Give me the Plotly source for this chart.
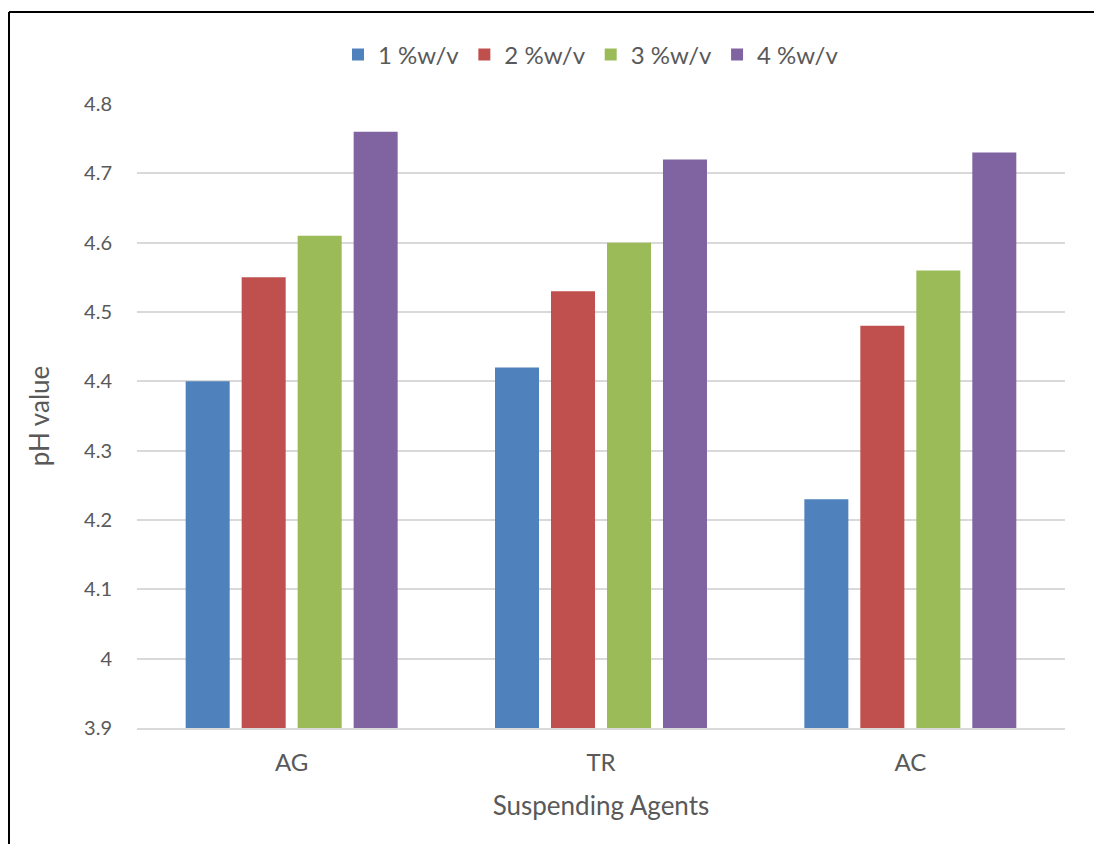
import plotly.graph_objects as go

categories = ["AG", "TR", "AC"]
series_names = ["1 %w/v", "2 %w/v", "3 %w/v", "4 %w/v"]
s1 = [4.40, 4.42, 4.23]
s2 = [4.55, 4.53, 4.48]
s3 = [4.61, 4.60, 4.56]
s4 = [4.76, 4.72, 4.73]
colors = ["#4F81BD", "#C0504D", "#9BBB59", "#8064A2"]
y_ticks = [3.9, 4.0, 4.1, 4.2, 4.3, 4.4, 4.5, 4.6, 4.7, 4.8]
y_tick_labels = ["3.9", "4", "4.1", "4.2", "4.3", "4.4", "4.5", "4.6", "4.7", "4.8"]

# page body has an 8px offset
OFF = 8
W, H = 1102 - OFF, 844 - OFF
ml, mt = 137 - OFF, 104 - OFF
mr = W - (1065 - OFF)
mb = H - (728 - OFF)
pw, ph = W - ml - mr, H - mt - mb

fig = go.Figure()
for name, vals, c in zip(series_names, [s1, s2, s3, s4], colors):
    fig.add_trace(go.Bar(x=categories, y=vals, name=name, marker=dict(color=c, line=dict(width=0))))

font = "Lato, Open Sans, sans-serif"
fig.update_layout(
    width=W, height=H,
    margin=dict(l=ml, r=mr, t=mt, b=mb),
    paper_bgcolor="white", plot_bgcolor="white",
    barmode="group", bargap=0.276, bargroupgap=0.214,
    font=dict(family=font, color="#595959", size=20),
    legend=dict(orientation="h", x=(591 - 137) / pw, xanchor="center", y=1 + (104 - 55) / ph, yanchor="middle",
                font=dict(size=24, color="#595959"), itemwidth=30, tracegroupgap=0),
    xaxis=dict(showgrid=False, showline=True, linecolor="#d9d9d9", linewidth=1.5, ticks="",
               tickfont=dict(size=24, color="#595959"), ticklabelstandoff=12,
               title=dict(text="Suspending Agents", font=dict(size=26, color="#595959"), standoff=22)),
    yaxis=dict(range=[3.9, 4.8], tickvals=y_ticks, ticktext=y_tick_labels, showgrid=True,
               gridcolor="#d9d9d9", gridwidth=1.5, zeroline=False, showline=False, ticks="",
               tickfont=dict(size=20, color="#595959"), ticklabelstandoff=24,
               title=dict(text="pH value", font=dict(size=26, color="#595959"), standoff=26)),
    shapes=[
        dict(type="line", xref="paper", yref="paper", x0=(9 - 137) / pw, x1=(W + 20 - ml) / pw,
             y0=1 + (104 - 12) / ph, y1=1 + (104 - 12) / ph, line=dict(color="black", width=2)),
        dict(type="line", xref="paper", yref="paper", x0=(9 - 137) / pw, x1=(9 - 137) / pw,
             y0=1 + (104 - 12) / ph, y1=-(mb + 20) / ph, line=dict(color="black", width=2)),
    ],
)
fig.write_html("out.html")
